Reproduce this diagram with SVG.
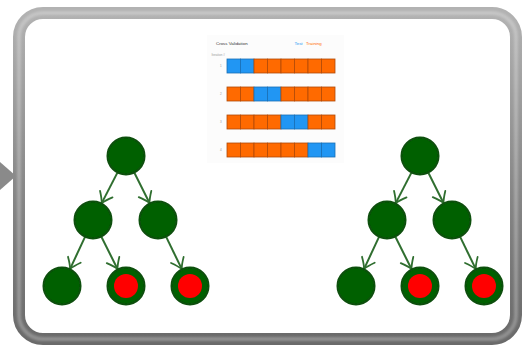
<svg xmlns="http://www.w3.org/2000/svg" width="529" height="347" viewBox="0 0 529 347">
  <defs>
    <linearGradient id="frameGrad" x1="0" y1="0" x2="0" y2="1">
      <stop offset="0" stop-color="#b2b2b2"/>
      <stop offset="0.5" stop-color="#8a8a8a"/>
      <stop offset="1" stop-color="#6a6a6a"/>
    </linearGradient>
    <filter id="soft" x="-10%" y="-10%" width="120%" height="120%">
      <feGaussianBlur stdDeviation="1.2"/>
    </filter>
    <filter id="nodeSoft" x="-20%" y="-20%" width="140%" height="140%">
      <feGaussianBlur stdDeviation="0.6"/>
    </filter>
    <marker id="vee" viewBox="-12 -9 14 18" refX="0" refY="0" markerWidth="14" markerHeight="18" markerUnits="userSpaceOnUse" orient="auto">
      <path d="M -10 -7 Q -4 -2 0 0 Q -4 2 -10 7" fill="none" stroke="#2f6e2f" stroke-width="1.8" stroke-linecap="round"/>
    </marker>
  </defs>
  <style>
    .edge { stroke: #2f6e2f; stroke-width: 2; fill: none; marker-end: url(#vee); }
    .green { fill: #006100; stroke: #0b4f0b; stroke-width: 2; filter: url(#nodeSoft); }
    .red { fill: #ff0000; filter: url(#nodeSoft); }
    .cv-title { font-family: "Liberation Sans", Arial, sans-serif; font-size: 4.4px; fill: #333333; }
    .cv-small { font-family: "Liberation Sans", Arial, sans-serif; font-size: 3px; fill: #9a9a9a; }
    .test { fill: #2196f3; stroke: #1a6fb5; stroke-width: 0.8; }
    .train { fill: #ff6a00; stroke: #b04a08; stroke-width: 0.8; }
  </style>

  <rect width="529" height="347" fill="#ffffff"/>

  <!-- pointer on the left edge -->
  <polygon points="0,162 16,176 0,190" fill="#8a8a8a"/>

  <!-- rounded tube frame -->
  <g id="frame">
    <rect x="19" y="13" width="497" height="326" rx="24" ry="24" fill="#ffffff" stroke="url(#frameGrad)" stroke-width="12"/>
    <rect x="19" y="13" width="497" height="326" rx="24" ry="24" fill="none" stroke="#ffffff" stroke-opacity="0.25" stroke-width="4" filter="url(#soft)"/>
  </g>

  <!-- cross validation chart -->
  <g id="cv-chart">
    <rect x="207" y="35" width="137" height="128" fill="#fcfcfc"/>
    <text class="cv-title" x="216" y="44.5">Cross Validation</text>
    <text class="cv-title" x="294.5" y="44.5" style="fill:#2196f3">Test</text>
    <text class="cv-title" x="306" y="44.5" style="fill:#ff6a00">Training</text>
    <text class="cv-small" x="211.5" y="56">Iteration #</text>
    <text class="cv-small" x="220" y="67">1</text>
    <text class="cv-small" x="220" y="95">2</text>
    <text class="cv-small" x="220" y="123">3</text>
    <text class="cv-small" x="220" y="151">4</text>
    <g id="fold-1">
      <rect class="test" x="227" y="59" width="13.5" height="14"/>
      <rect class="test" x="240.5" y="59" width="13.5" height="14"/>
      <rect class="train" x="254" y="59" width="13.5" height="14"/>
      <rect class="train" x="267.5" y="59" width="13.5" height="14"/>
      <rect class="train" x="281" y="59" width="13.5" height="14"/>
      <rect class="train" x="294.5" y="59" width="13.5" height="14"/>
      <rect class="train" x="308" y="59" width="13.5" height="14"/>
      <rect class="train" x="321.5" y="59" width="13.5" height="14"/>
    </g>
    <g id="fold-2">
      <rect class="train" x="227" y="87" width="13.5" height="14"/>
      <rect class="train" x="240.5" y="87" width="13.5" height="14"/>
      <rect class="test" x="254" y="87" width="13.5" height="14"/>
      <rect class="test" x="267.5" y="87" width="13.5" height="14"/>
      <rect class="train" x="281" y="87" width="13.5" height="14"/>
      <rect class="train" x="294.5" y="87" width="13.5" height="14"/>
      <rect class="train" x="308" y="87" width="13.5" height="14"/>
      <rect class="train" x="321.5" y="87" width="13.5" height="14"/>
    </g>
    <g id="fold-3">
      <rect class="train" x="227" y="115" width="13.5" height="14"/>
      <rect class="train" x="240.5" y="115" width="13.5" height="14"/>
      <rect class="train" x="254" y="115" width="13.5" height="14"/>
      <rect class="train" x="267.5" y="115" width="13.5" height="14"/>
      <rect class="test" x="281" y="115" width="13.5" height="14"/>
      <rect class="test" x="294.5" y="115" width="13.5" height="14"/>
      <rect class="train" x="308" y="115" width="13.5" height="14"/>
      <rect class="train" x="321.5" y="115" width="13.5" height="14"/>
    </g>
    <g id="fold-4">
      <rect class="train" x="227" y="143" width="13.5" height="14"/>
      <rect class="train" x="240.5" y="143" width="13.5" height="14"/>
      <rect class="train" x="254" y="143" width="13.5" height="14"/>
      <rect class="train" x="267.5" y="143" width="13.5" height="14"/>
      <rect class="train" x="281" y="143" width="13.5" height="14"/>
      <rect class="train" x="294.5" y="143" width="13.5" height="14"/>
      <rect class="test" x="308" y="143" width="13.5" height="14"/>
      <rect class="test" x="321.5" y="143" width="13.5" height="14"/>
    </g>
  </g>

  <!-- tree connectors -->
  <g id="connectors">
    <line class="edge" x1="117.3" y1="172.9" x2="101.7" y2="203.1"/>
    <line class="edge" x1="134.5" y1="173" x2="149.5" y2="203"/>
    <line class="edge" x1="84.9" y1="237.2" x2="70.1" y2="268.8"/>
    <line class="edge" x1="101.5" y1="237" x2="117.5" y2="269"/>
    <line class="edge" x1="166.3" y1="237.1" x2="181.7" y2="268.9"/>

    <line class="edge" x1="411.3" y1="172.9" x2="395.7" y2="203.1"/>
    <line class="edge" x1="428.5" y1="173" x2="443.5" y2="203"/>
    <line class="edge" x1="378.9" y1="237.2" x2="364.1" y2="268.8"/>
    <line class="edge" x1="395.5" y1="237" x2="411.5" y2="269"/>
    <line class="edge" x1="460.3" y1="237.1" x2="475.7" y2="268.9"/>
  </g>

  <!-- left tree -->
  <g id="left-root"><circle class="green" cx="126" cy="156" r="18.5"/></g>
  <g id="left-mid-a"><circle class="green" cx="93" cy="220" r="18.5"/></g>
  <g id="left-mid-b"><circle class="green" cx="158" cy="220" r="18.5"/></g>
  <g id="left-leaf-a"><circle class="green" cx="62" cy="286" r="18.5"/></g>
  <g id="left-leaf-b"><circle class="green" cx="126" cy="286" r="18.5"/><circle class="red" cx="126" cy="286" r="12"/></g>
  <g id="left-leaf-c"><circle class="green" cx="190" cy="286" r="18.5"/><circle class="red" cx="190" cy="286" r="12"/></g>

  <!-- right tree -->
  <g id="right-root"><circle class="green" cx="420" cy="156" r="18.5"/></g>
  <g id="right-mid-a"><circle class="green" cx="387" cy="220" r="18.5"/></g>
  <g id="right-mid-b"><circle class="green" cx="452" cy="220" r="18.5"/></g>
  <g id="right-leaf-a"><circle class="green" cx="356" cy="286" r="18.5"/></g>
  <g id="right-leaf-b"><circle class="green" cx="420" cy="286" r="18.5"/><circle class="red" cx="420" cy="286" r="12"/></g>
  <g id="right-leaf-c"><circle class="green" cx="484" cy="286" r="18.5"/><circle class="red" cx="484" cy="286" r="12"/></g>
</svg>
